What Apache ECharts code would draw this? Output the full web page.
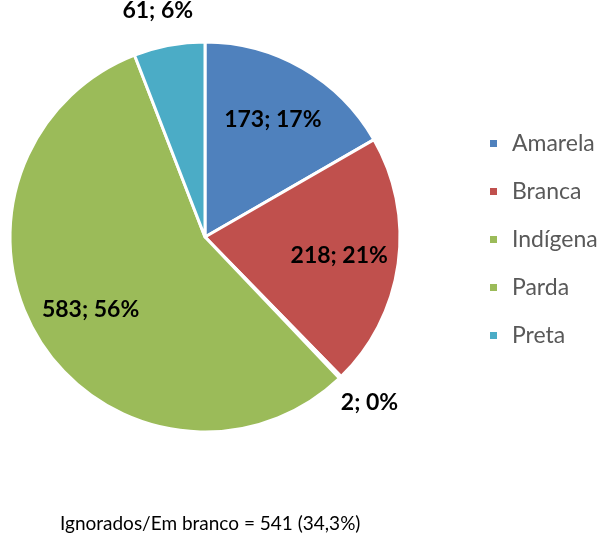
<html>
<head>
<meta charset="utf-8">
<script src="https://cdn.jsdelivr.net/npm/echarts@6/dist/echarts.min.js"></script>
<style>
html, body { margin: 0; padding: 0; background: #fff; }
#main { width: 597px; height: 538px; }
</style>
</head>
<body>
<div id="main"></div>
<script>
// categories and counts
var names = ['Amarela', 'Branca', 'Indígena', 'Parda', 'Preta'];
var counts = [173, 218, 2, 583, 61];
var colors = ['#4F81BD', '#C0504D', '#9BBB59', '#9BBB59', '#4BACC6'];
var outsideNames = ['Indígena', 'Preta'];
var footnote = 'Ignorados/Em branco = 541 (34,3%)';

var chart = echarts.init(document.getElementById('main'));

function fmt(p) {
    return p.value + '; ' + Math.round(p.percent) + '%';
}

var mainData = names.map(function (n, i) {
    var out = outsideNames.indexOf(n) >= 0;
    return {
        name: n,
        value: counts[i],
        itemStyle: { color: colors[i] },
        label: { show: out }
    };
});

// transparent ring used only to place inside labels further out
var labelData = names.map(function (n, i) {
    var out = outsideNames.indexOf(n) >= 0;
    return {
        name: n,
        value: counts[i],
        label: { show: !out }
    };
});

var labelFont = {
    fontFamily: 'Lato',
    fontWeight: 'bold',
    fontSize: 23,
    color: '#000'
};

chart.setOption({
    animation: false,
    color: colors,
    legend: {
        orient: 'vertical',
        left: 483,
        top: 127,
        itemWidth: 9,
        itemHeight: 9,
        itemGap: 25,
        icon: 'rect',
        data: names,
        textStyle: {
            fontFamily: 'Lato', fontSize: 23, lineHeight: 22, color: '#595959',
            padding: [0, 0, 0, 9]
        }
    },
    graphic: [{
        type: 'text',
        left: 60,
        top: 514,
        style: { text: footnote, font: '19px Lato', fill: '#000' }
    }],
    series: [{
        type: 'pie',
        center: [205, 237],
        radius: [0, 195],
        startAngle: 90,
        clockwise: true,
        minAngle: 0,
        avoidLabelOverlap: false,
        itemStyle: { borderColor: '#fff', borderWidth: 3 },
        label: Object.assign({ position: 'outside', formatter: fmt }, labelFont),
        labelLine: { show: false, length: 35, length2: 0 },
        labelLayout: { align: 'center', verticalAlign: 'middle' },
        emphasis: { disabled: true },
        data: mainData
    }, {
        type: 'pie',
        center: [205, 237],
        radius: [70, 195],
        startAngle: 90,
        clockwise: true,
        silent: true,
        avoidLabelOverlap: false,
        itemStyle: { color: 'rgba(0,0,0,0)' },
        label: Object.assign({ position: 'inside', formatter: fmt }, labelFont),
        labelLine: { show: false },
        data: labelData
    }]
});
</script>
</body>
</html>
